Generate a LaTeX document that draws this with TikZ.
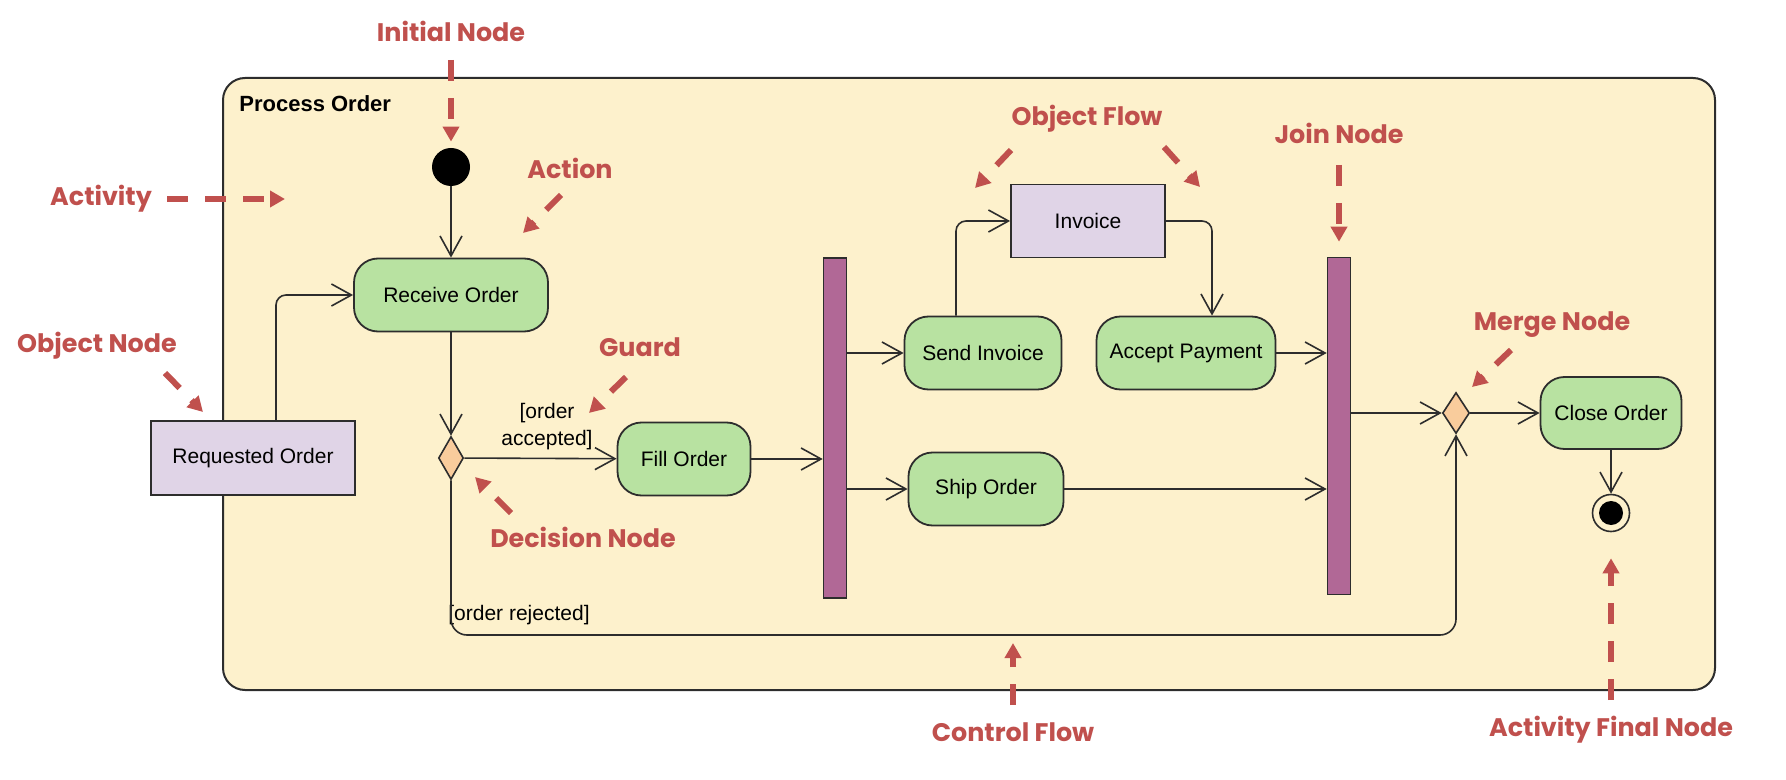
\documentclass[tikz,border=0pt]{standalone}
\usepackage{fontspec}
\setmainfont{Liberation Sans}
\newfontfamily\annotfont{Poppins}
\usetikzlibrary{shapes.geometric, arrows.meta}

\definecolor{framefill}{RGB}{253,241,204}
\definecolor{actfill}{RGB}{184,226,161}
\definecolor{objfill}{RGB}{224,212,231}
\definecolor{decfill}{RGB}{249,204,156}
\definecolor{barfill}{RGB}{177,104,150}
\definecolor{annot}{RGB}{192,80,77}
\definecolor{edge}{RGB}{45,45,45}

\newcommand{\diagfont}{\fontsize{10.5}{13.5}\selectfont}

\tikzset{
  actframe/.style={draw=edge, line width=1pt, fill=framefill, rounded corners=11pt, inner sep=0pt},
  actbox/.style={draw=edge, line width=0.9pt, fill=actfill, rounded corners=12pt,
    minimum height=36.5pt, inner sep=0pt, font=\diagfont},
  objbox/.style={draw=edge, line width=0.9pt, fill=objfill, minimum height=36.5pt,
    inner sep=0pt, font=\diagfont},
  syncbar/.style={draw=edge, line width=0.8pt, fill=barfill, minimum width=11.5pt, inner sep=0pt},
  decnode/.style={diamond, draw=edge, line width=0.8pt, fill=decfill, inner sep=0pt},
  initnode/.style={circle, fill=black, minimum size=19pt, inner sep=0pt},
  endnode/.style={circle, draw=edge, line width=0.8pt, minimum size=18.5pt, inner sep=0pt},
  flowline/.style={draw=edge, line width=0.8pt, rounded corners=5pt,
    -{Straight Barb[length=10pt,width=11pt]}},
  guardtext/.style={font=\diagfont, inner sep=0pt, align=center},
  annotlabel/.style={text=annot, font=\annotfont\bfseries\fontsize{12.7}{15}\selectfont, inner sep=0pt},
  annotarrow/.style={draw=annot, line width=3pt, dash pattern=on 10.5pt off 8.5pt,
    -{Triangle[length=7.5pt,width=8pt]}},
}

\begin{document}
\begin{tikzpicture}[x=0.5pt, y=-0.5pt]
  \useasboundingbox (0,0) rectangle (1786,780);

  % Activity frame
  \node[actframe, minimum width=746pt, minimum height=306pt] (frame) at (969,384) {};
  \node[anchor=west, inner sep=0pt, font=\bfseries\fontsize{11}{13}\selectfont] (title) at (239,104) {Process Order};

  % Nodes
  \node[initnode] (init) at (451,167) {};
  \node[actbox, minimum width=97pt] (recv) at (451,295) {Receive Order};
  \node[objbox, minimum width=102pt, minimum height=37pt] (reqord) at (253,458) {Requested Order};
  \node[decnode, minimum width=12.5pt, minimum height=21.5pt] (dec) at (451,458) {};
  \node[actbox, minimum width=66.5pt] (fill) at (684,459) {Fill Order};
  \node[syncbar, minimum height=170pt] (fork) at (835,428) {};
  \node[actbox, minimum width=78.5pt] (send) at (983,353) {Send Invoice};
  \node[actbox, minimum width=77.5pt] (ship) at (986,489) {Ship Order};
  \node[objbox, minimum width=77pt] (inv) at (1088,221) {Invoice};
  \node[actbox, minimum width=89.5pt] (acc) at (1186,353) {Accept Payment};
  \node[syncbar, minimum height=168.5pt] (join) at (1339,426) {};
  \node[decnode, minimum width=13.5pt, minimum height=20.5pt] (merge) at (1456,413) {};
  \node[actbox, minimum width=70.5pt, minimum height=36pt] (close) at (1611,413) {Close Order};
  \node[endnode] (final) at (1611,513) {};
  \fill (final.center) circle (6pt);

  % Guards
  \node[guardtext] (gacc) at (547,427) {[order\\accepted]};
  \node[guardtext] (grej) at (519,615) {[order rejected]};

  % Control and object flows
  \draw[flowline] (init) -- (recv);
  \draw[flowline] ([xshift=11.5pt]reqord.north) |- (recv.west);
  \draw[flowline] (recv) -- (dec);
  \draw[flowline] (dec) -- (fill);
  \draw[flowline] (fill) -- (fill -| fork.west);
  \draw[flowline] (send -| fork.east) -- (send);
  \draw[flowline] (ship -| fork.east) -- (ship);
  \draw[flowline] ([xshift=-13.5pt]send.north) |- (inv.west);
  \draw[flowline] (inv.east) -| ([xshift=13pt]acc.north);
  \draw[flowline] (acc) -- (acc -| join.west);
  \draw[flowline] (ship) -- (ship -| join.west);
  \draw[flowline] (merge -| join.east) -- (merge);
  \draw[flowline] (merge) -- (close);
  \draw[flowline] (close) -- (final);
  \coordinate (rejcorner) at (451,635);
  \draw[flowline, rounded corners=8pt] (dec.south) -- (dec.south |- rejcorner)
    -- (merge.south |- rejcorner) -- (merge.south);

  % Annotations
  \node[annotlabel] (nInit) at (451,31) {Initial Node};
  \draw[annotarrow, shorten >=3pt] ([shift={(0,29)}]nInit.center) -- (init.north);

  \node[annotlabel] (nActivity) at (101,199) {Activity};
  \coordinate (tActivity) at (285,199);
  \draw[annotarrow] ([shift={(66,0)}]nActivity.center) -- (tActivity);

  \node[annotlabel] (nAction) at (570,168) {Action};
  \coordinate (tAction) at (523,233);
  \draw[annotarrow] ([shift={(-9,27)}]nAction.center) -- (tAction);

  \node[annotlabel] (nObject) at (97,346) {Object Node};
  \coordinate (tObject) at (203,412);
  \draw[annotarrow] ([shift={(68,27)}]nObject.center) -- (tObject);

  \node[annotlabel] (nGuard) at (640,347) {Guard};
  \coordinate (tGuard) at (589,413);
  \draw[annotarrow] ([shift={(-14,30)}]nGuard.center) -- (tGuard);

  \node[annotlabel] (nDecision) at (583,537) {Decision Node};
  \coordinate (tDecision) at (475,477);
  \draw[annotarrow] ([shift={(-72,-24)}]nDecision.center) -- (tDecision);

  \node[annotlabel] (nFlow) at (1087,119) {Object Flow};
  \coordinate (tFlowL) at (975,188);
  \coordinate (tFlowR) at (1200,187);
  \draw[annotarrow] ([shift={(-76,31)}]nFlow.center) -- (tFlowL);
  \draw[annotarrow] ([shift={(77,28)}]nFlow.center) -- (tFlowR);

  \node[annotlabel] (nJoin) at (1339,133) {Join Node};
  \draw[annotarrow, shorten >=7.5pt] ([shift={(0,32)}]nJoin.center) -- (join.north);

  \node[annotlabel] (nMerge) at (1552,325) {Merge Node};
  \coordinate (tMerge) at (1472,387);
  \draw[annotarrow] ([shift={(-41,25)}]nMerge.center) -- (tMerge);

  \node[annotlabel] (nControl) at (1013,732) {Control Flow};
  \coordinate (tControl) at (1013,643);
  \draw[annotarrow] ([shift={(0,-27)}]nControl.center) -- (tControl);

  \node[annotlabel] (nFinal) at (1611,730) {Activity Final Node};
  \draw[annotarrow, shorten >=13pt] ([shift={(0,-30)}]nFinal.center) -- (final.south);
\end{tikzpicture}
\end{document}
